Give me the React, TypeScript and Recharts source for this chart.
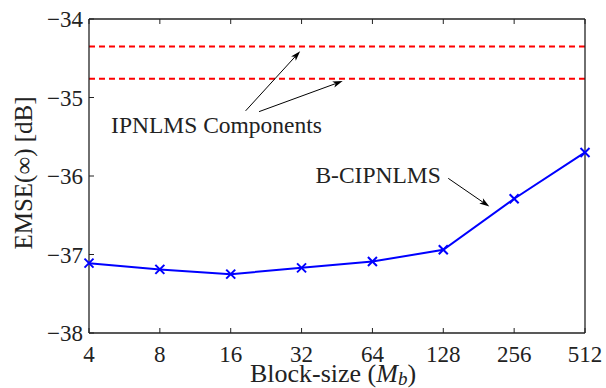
import React from 'react';
import {
  LineChart, Line, XAxis, YAxis, ReferenceLine, ReferenceDot,
} from 'recharts';

const blockSizes = [4, 8, 16, 32, 64, 128, 256, 512];
const emseBCIPNLMS = [-37.11, -37.19, -37.25, -37.17, -37.09, -36.94, -36.29, -35.7];
const ipnlmsLevels = [-34.35, -34.76];
const yTicks = [-38, -37, -36, -35, -34];

const FONT = 'Liberation Serif';
const INK = '#222';

const chartData = blockSizes.map((m, i) => ({ idx: i, emse: emseBCIPNLMS[i] }));
const xTicks = blockSizes.map((_, i) => i);

const minus = (v: number) => `${v}`.replace('-', '\u2212');

const CrossDot = (props: any) => {
  const { cx, cy } = props;
  if (cx == null || cy == null) return null;
  const s = 4.5;
  return (
    <g stroke="#0000ff" strokeWidth={2}>
      <line x1={cx - s} y1={cy - s} x2={cx + s} y2={cy + s} />
      <line x1={cx - s} y1={cy + s} x2={cx + s} y2={cy - s} />
    </g>
  );
};

const Arrow = (props: any) => {
  const { x1, y1, x2, y2 } = props;
  const ang = Math.atan2(y2 - y1, x2 - x1);
  const len = 10, w = 3.2;
  const bx = x2 - len * Math.cos(ang), by = y2 - len * Math.sin(ang);
  const nx = -Math.sin(ang) * w, ny = Math.cos(ang) * w;
  const mx = x2 - len * 0.75 * Math.cos(ang), my = y2 - len * 0.75 * Math.sin(ang);
  return (
    <g>
      <line x1={x1} y1={y1} x2={mx} y2={my} stroke="#000" strokeWidth={1} />
      <polygon
        points={`${x2},${y2} ${bx + nx},${by + ny} ${mx},${my} ${bx - nx},${by - ny}`}
        fill="#000"
      />
    </g>
  );
};

const textShape = (txt: string) => (p: any) => (
  <text x={p.cx} y={p.cy} textAnchor="middle" dominantBaseline="central"
    style={{ fontFamily: FONT }} fontSize={23.5} fill={INK}>
    {txt}
  </text>
);

const noTick = () => <g />;

export default function App() {
  return (
    <div style={{ position: 'absolute', left: 0, top: 0, background: '#fff', fontFamily: FONT }}>
      <LineChart width={606} height={388} data={chartData}
        margin={{ top: 18, right: 20, bottom: 0, left: 0 }}
        style={{ fontFamily: FONT }}>
        <XAxis
          dataKey="idx" type="number" domain={[0, 7]} ticks={xTicks}
          tickFormatter={(i) => `${blockSizes[i]}`}
          height={55} tickSize={-5} tickMargin={18}
          axisLine={{ stroke: INK, strokeWidth: 1.3 }}
          tickLine={{ stroke: INK }}
          tick={{ fill: INK, fontSize: 23, fontFamily: FONT }}
          label={{
            content: (p: any) => {
              const vb = p.viewBox;
              return (
                <text x={vb.x + vb.width / 2 - 4} y={vb.y + 49} textAnchor="middle"
                  style={{ fontFamily: FONT }} fontSize={26} fill={INK}>
                  Block-size (<tspan fontStyle="italic">M</tspan>
                  <tspan fontStyle="italic" fontSize={19} dy={3}>b</tspan>
                  <tspan dy={-3}>)</tspan>
                </text>
              );
            },
          }}
        />
        <XAxis
          xAxisId="top" orientation="top" type="number" domain={[0, 7]} ticks={xTicks}
          height={1} tickSize={-5} tick={noTick}
          axisLine={{ stroke: INK, strokeWidth: 1.3 }} tickLine={{ stroke: INK }}
        />
        <YAxis
          domain={[-38, -34]} ticks={yTicks} width={89}
          tickFormatter={minus} tickSize={-5} tickMargin={11}
          axisLine={{ stroke: INK, strokeWidth: 1.3 }}
          tickLine={{ stroke: INK }}
          tick={{ fill: INK, fontSize: 23, fontFamily: FONT }}
          label={{
            content: () => {
              const cx = 23, cy = 173;
              return (
                <text x={cx} y={cy} transform={`rotate(-90 ${cx} ${cy})`} textAnchor="middle"
                  dominantBaseline="central" style={{ fontFamily: FONT }} fontSize={25} fill={INK}>
                  EMSE(∞) [dB]
                </text>
              );
            },
          }}
        />
        <YAxis
          yAxisId="right" orientation="right" domain={[-38, -34]} ticks={yTicks}
          width={1} tickSize={-5} tick={noTick}
          axisLine={{ stroke: INK, strokeWidth: 1.3 }} tickLine={{ stroke: INK }}
        />
        {ipnlmsLevels.map((lv) => (
          <ReferenceLine key={lv} y={lv} stroke="#ff0000" strokeWidth={2}
            strokeDasharray="6 4" />
        ))}
        <Line dataKey="emse" stroke="#0000ff" strokeWidth={2} dot={<CrossDot />}
          activeDot={false} isAnimationActive={false} />
        <ReferenceLine segment={[{ x: 2.21, y: -35.17 }, { x: 2.98, y: -34.41 }]}
          shape={<Arrow />} ifOverflow="visible" />
        <ReferenceLine segment={[{ x: 2.4, y: -35.18 }, { x: 3.58, y: -34.79 }]}
          shape={<Arrow />} ifOverflow="visible" />
        <ReferenceLine segment={[{ x: 5.07, y: -36.03 }, { x: 5.65, y: -36.39 }]}
          shape={<Arrow />} ifOverflow="visible" />
        <ReferenceDot x={1.8} y={-35.35} r={0} shape={textShape('IPNLMS Components')}
          ifOverflow="visible" />
        <ReferenceDot x={4.08} y={-35.99} r={0} shape={textShape('B-CIPNLMS')}
          ifOverflow="visible" />
      </LineChart>
    </div>
  );
}
